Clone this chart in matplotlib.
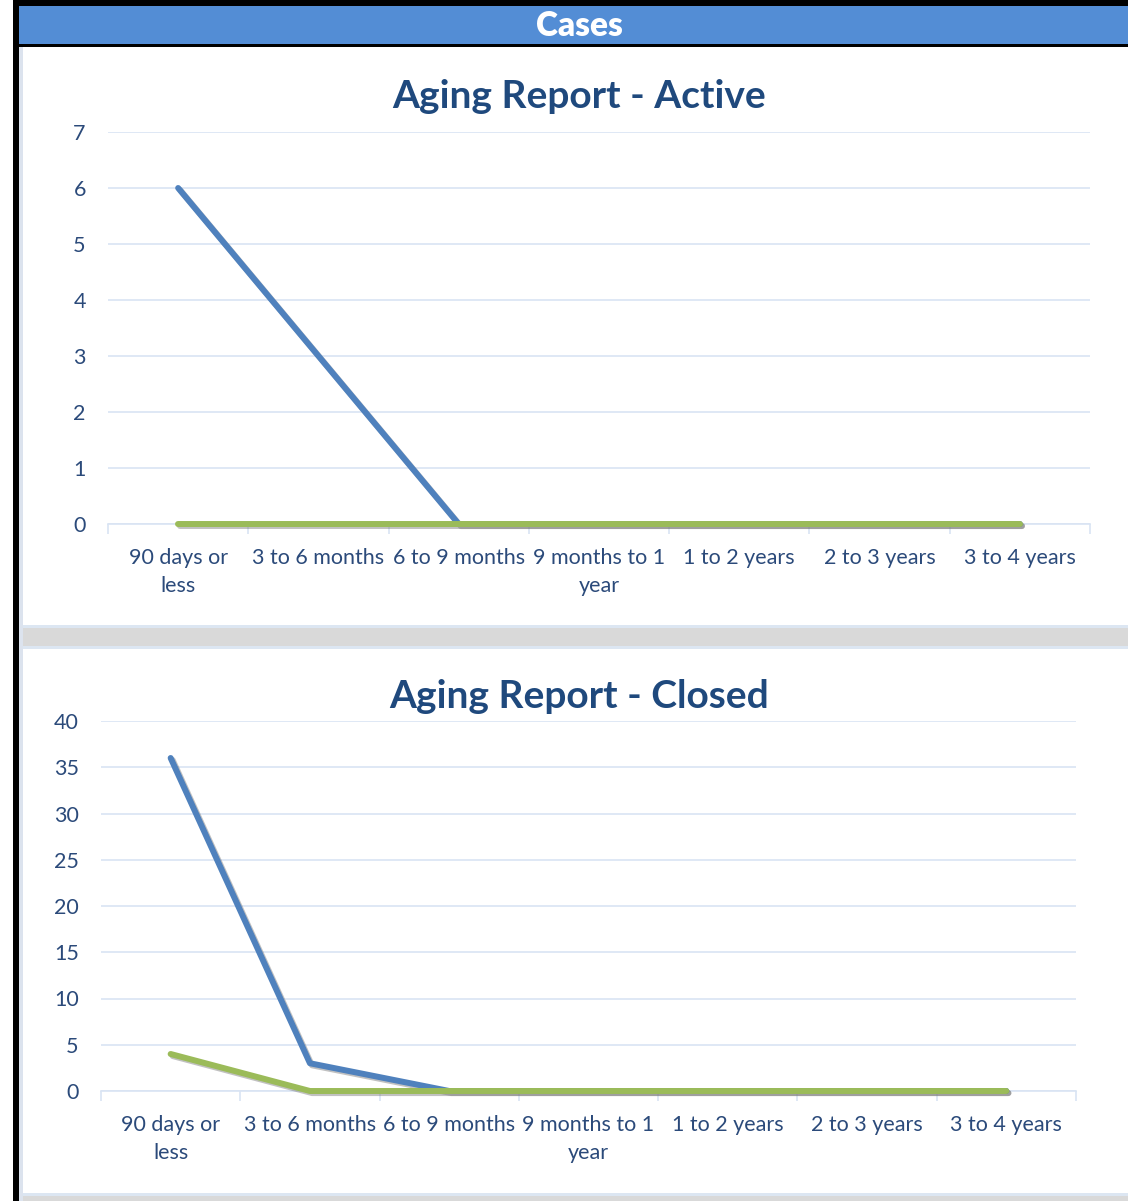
import matplotlib.pyplot as plt
import matplotlib.patheffects as pe
from matplotlib.patches import Rectangle

# data
categories = ['90 days or\nless', '3 to 6 months', '6 to 9 months', '9 months to 1\nyear',
              '1 to 2 years', '2 to 3 years', '3 to 4 years']
active_blue = [6, 3, 0, 0, 0, 0, 0]
active_green = [0, 0, 0, 0, 0, 0, 0]
closed_blue = [36, 3, 0, 0, 0, 0, 0]
closed_green = [4, 0, 0, 0, 0, 0, 0]

W, H = 1128, 1201
BLUE = '#4F81BD'
GREEN = '#9BBB59'
TEXT = '#2B4A7A'
TITLE = '#1F497D'
GRID = '#D9E4F3'

plt.rcParams['font.family'] = ['Lato', 'DejaVu Sans']

fig = plt.figure(figsize=(W / 100, H / 100), dpi=100)


def rect(x0, y0, x1, y1, color):
    # pixel box (top-left origin) -> figure fraction, kept behind the axes
    fig.patches.append(Rectangle((x0 / W, 1 - y1 / H), (x1 - x0) / W, (y1 - y0) / H,
                                 transform=fig.transFigure, facecolor=color,
                                 edgecolor='none', zorder=-5))


# frame / header
rect(19, 47, W, H, '#FFFFFF')
rect(19, 47, 23, H, '#DCE3EE')
rect(13, 0, W, 6, '#000000')
rect(13, 0, 19, H, '#000000')
rect(19, 6, W, 44, '#538DD5')
rect(19, 44, W, 47, '#000000')
rect(23, 625, W, 628, '#DCE6F2')
rect(23, 628, W, 646, '#D9D9D9')
rect(23, 646, W, 649, '#DCE6F2')
rect(23, 1193, W, 1196, '#DCE6F2')
rect(23, 1196, W, H, '#D9D9D9')
fig.text(579 / W, 1 - 26 / H, 'Cases', color='white', fontsize=24, fontweight='heavy',
         ha='center', va='center')


def panel(box, blue, green, ymax, ystep, title, title_y):
    x0, y0, x1, y1 = box
    ax = fig.add_axes([x0 / W, 1 - y1 / H, (x1 - x0) / W, (y1 - y0) / H])
    ax.set_facecolor('none')
    xs = list(range(len(categories)))
    shadow = [pe.SimpleLineShadow(offset=(1.5, -1.5), shadow_color='#777777', alpha=0.45), pe.Normal()]
    ax.plot(xs, blue, color=BLUE, lw=4.3, solid_capstyle='round', solid_joinstyle='round',
            path_effects=shadow, zorder=3, clip_on=False)
    ax.plot(xs, green, color=GREEN, lw=4.3, solid_capstyle='round', solid_joinstyle='round',
            path_effects=shadow, zorder=4, clip_on=False)
    ax.set_xlim(-0.5, len(categories) - 0.5)
    ax.set_ylim(0, ymax)
    ax.set_yticks(range(0, ymax + 1, ystep))
    ax.grid(axis='y', color=GRID, lw=1.2)
    ax.set_axisbelow(True)
    ax.set_xticks(xs)
    ax.set_xticklabels(categories, fontsize=15.5, color=TEXT, linespacing=1.5)
    ax.set_xticks([i - 0.5 for i in range(len(categories) + 1)], minor=True)
    ax.tick_params(axis='x', which='major', length=0, pad=17)
    ax.tick_params(axis='x', which='minor', length=7, color=GRID, width=1.2)
    ax.tick_params(axis='y', length=0, pad=16, labelsize=15.5, labelcolor=TEXT)
    for s in ['top', 'right', 'left']:
        ax.spines[s].set_visible(False)
    ax.spines['bottom'].set_color(GRID)
    ax.spines['bottom'].set_linewidth(1.2)
    fig.text(579 / W, 1 - title_y / H, title, color=TITLE, fontsize=28, fontweight='bold',
             ha='center', va='center')
    return ax


panel((108, 132, 1090, 524), active_blue, active_green, 7, 1, 'Aging Report - Active', 96)
panel((101, 721, 1076, 1091), closed_blue, closed_green, 40, 5, 'Aging Report - Closed', 696)

fig.savefig('out.png', dpi=100)
